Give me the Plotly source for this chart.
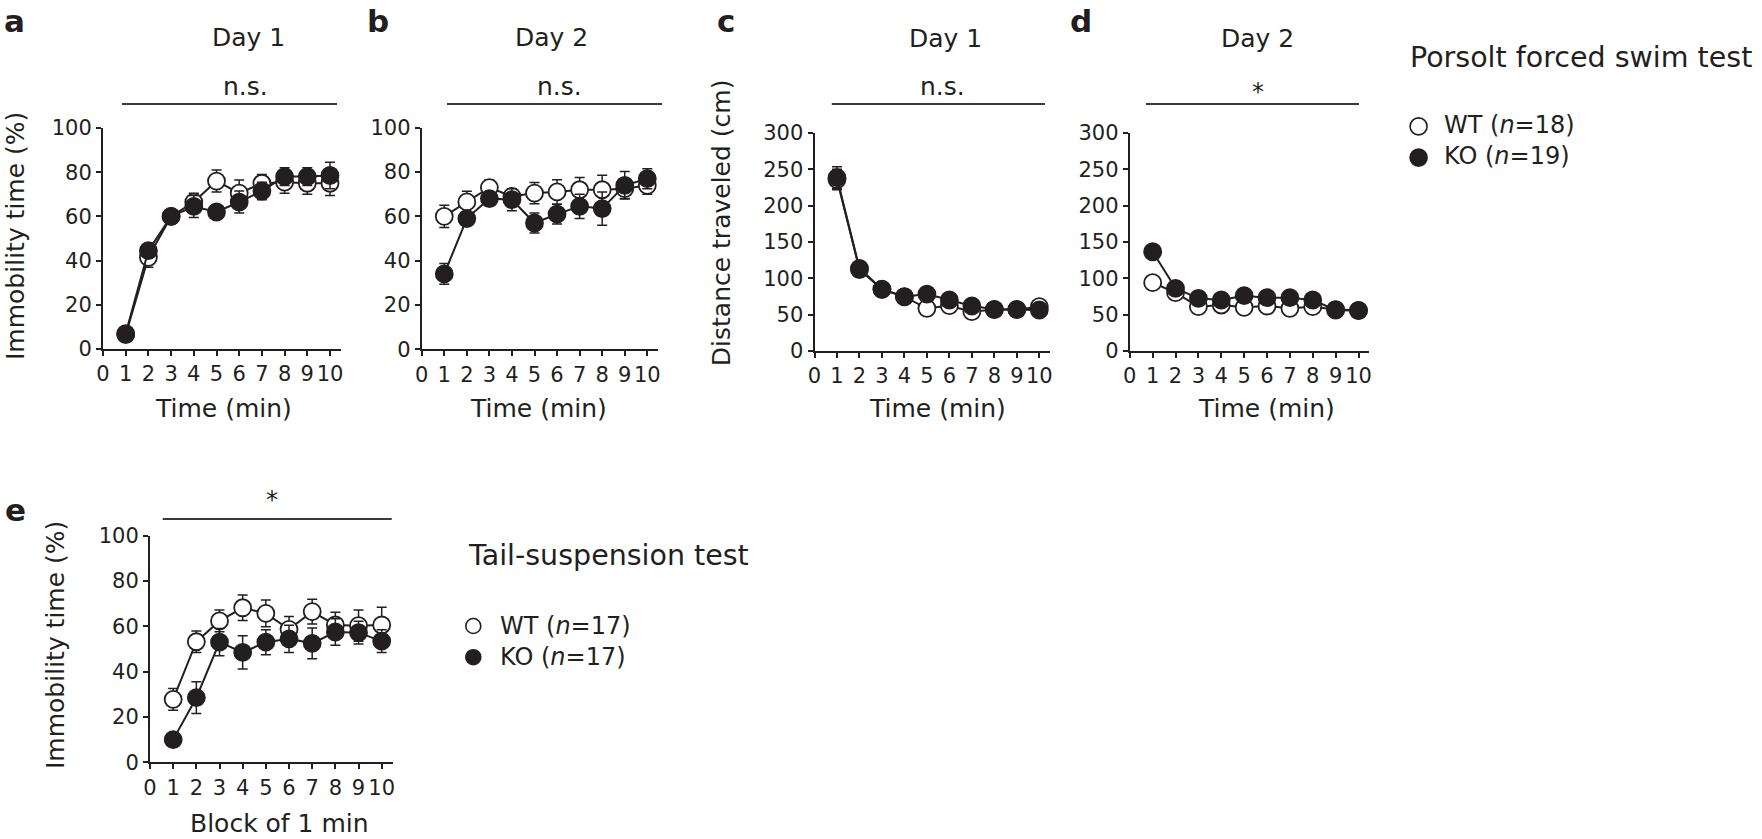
import plotly.graph_objects as go

# ---------------- data ----------------
minutes = [1, 2, 3, 4, 5, 6, 7, 8, 9, 10]
x_ticks = [0, 1, 2, 3, 4, 5, 6, 7, 8, 9, 10]
pct_ticks = [0, 20, 40, 60, 80, 100]
dist_ticks = [0, 50, 100, 150, 200, 250, 300]

# a: forced swim, Day 1, immobility (%)
a_wt = [6.5, 41.5, 60, 66.5, 76, 70.5, 75, 75.5, 75, 75]
a_wt_err = [1, 4.5, 2, 4, 5, 6, 4, 5, 5, 5.5]
a_ko = [7, 44.5, 60, 64.5, 62, 66.5, 71.5, 78, 78, 78.5]
a_ko_err = [1, 3, 2, 5, 2.5, 5, 4, 4, 4, 6]

# b: forced swim, Day 2, immobility (%)
b_wt = [60, 66.5, 73, 69, 70.5, 71, 72, 72, 72.5, 74]
b_wt_err = [5, 4.8, 3.5, 3, 4.8, 5.5, 5.5, 6.5, 4.5, 4]
b_ko = [34, 59, 68, 67.5, 57, 61, 64.5, 63.5, 74, 77]
b_ko_err = [4.7, 3, 3, 5, 4.5, 4.5, 5.5, 7.5, 6.2, 4.5]

# c: forced swim, Day 1, distance (cm)
c_wt = [236, 112, 85, 74.5, 58.7, 62.4, 54.1, 57, 57, 61]
c_wt_err = [14, 6, 5, 4, 4, 4, 3, 3, 3, 4]
c_ko = [238.5, 113.8, 84.9, 74.7, 78.4, 70.2, 61.9, 57.3, 57.3, 56.4]
c_ko_err = [15, 7, 5, 4, 5, 4, 4, 3, 3, 3]

# d: forced swim, Day 2, distance (cm)
d_wt = [94, 80.2, 61, 63.3, 60.1, 61.9, 58.7, 61, 57, 56]
d_wt_err = [5, 4, 3, 3, 3, 3, 3, 3, 3, 3]
d_ko = [136.6, 86.3, 72.5, 70.2, 76.1, 73.4, 73.4, 70.2, 56.4, 55.5]
d_ko_err = [9, 5, 4, 4, 4, 4, 4, 4, 3, 3]

# e: tail suspension, immobility (%)
e_wt = [27.8, 53.2, 62.4, 68.2, 65.7, 58.7, 66.5, 60.6, 60.3, 60.6]
e_wt_err = [4.8, 4.7, 4.8, 5.6, 5.9, 5.6, 5.5, 5.6, 6.9, 7.8]
e_ko = [10, 28.5, 53, 48.5, 53, 54.5, 52.5, 57.5, 57.2, 53.5]
e_ko_err = [1, 7, 6, 7.3, 5.5, 6, 6.8, 5.9, 5, 5]

swim_labels = ["WT (<i>n</i>=18)", "KO (<i>n</i>=19)"]
tail_labels = ["WT (<i>n</i>=17)", "KO (<i>n</i>=17)"]

# ---------------- layout constants ----------------
W, H = 1762, 839
DARK = "#231f20"
FONT = "DejaVu Sans"
XTICK_SIZE = 21
YTICK_SIZE = 21


def px(x):
    return x / W


def py(y):
    return 1 - y / H


XEND = 10.47
# panel geometry in pixels: x of value 0, x of value 10, y of value 0, y of top value
panels = {
    "a": dict(x0=103, x10=330, y0=349, ytop=128, ymax=100, ticks=pct_ticks,
              wt=a_wt, wte=a_wt_err, ko=a_ko, koe=a_ko_err),
    "b": dict(x0=421.7, x10=647.3, y0=349.3, ytop=127.7, ymax=100, ticks=pct_ticks,
              wt=b_wt, wte=b_wt_err, ko=b_ko, koe=b_ko_err),
    "c": dict(x0=814.5, x10=1039.3, y0=351, ytop=133, ymax=300, ticks=dist_ticks,
              wt=c_wt, wte=c_wt_err, ko=c_ko, koe=c_ko_err),
    "d": dict(x0=1129.8, x10=1358.5, y0=351, ytop=133, ymax=300, ticks=dist_ticks,
              wt=d_wt, wte=d_wt_err, ko=d_ko, koe=d_ko_err),
    "e": dict(x0=150, x10=381.7, y0=762.3, ytop=535.7, ymax=100, ticks=pct_ticks,
              wt=e_wt, wte=e_wt_err, ko=e_ko, koe=e_ko_err),
}

fig = go.Figure()
layout_axes = {}

for i, (name, p) in enumerate(panels.items(), start=1):
    xa = "x" if i == 1 else f"x{i}"
    ya = "y" if i == 1 else f"y{i}"
    xkey = "xaxis" if i == 1 else f"xaxis{i}"
    ykey = "yaxis" if i == 1 else f"yaxis{i}"
    unit = (p["x10"] - p["x0"]) / 10
    xdom = [px(p["x0"]), px(p["x0"] + XEND * unit)]
    ydom = [py(p["y0"]), py(p["ytop"])]
    common = dict(showline=True, linecolor=DARK, linewidth=2, ticks="outside",
                  ticklen=5, tickwidth=2, tickcolor=DARK, showgrid=False,
                  zeroline=False, fixedrange=True, automargin=False)
    layout_axes[xkey] = dict(domain=xdom, range=[0, XEND], anchor=ya,
                             tickmode="array", tickvals=x_ticks, tickangle=0,
                             tickfont=dict(family=FONT, size=XTICK_SIZE, color=DARK),
                             **common)
    layout_axes[ykey] = dict(domain=ydom, range=[0, p["ymax"]], anchor=xa,
                             tickmode="array", tickvals=p["ticks"],
                             tickfont=dict(family=FONT, size=YTICK_SIZE, color=DARK),
                             **common)
    for grp, vals, errs, fill in (("WT", p["wt"], p["wte"], "white"),
                                  ("KO", p["ko"], p["koe"], DARK)):
        fig.add_trace(go.Scatter(
            x=minutes, y=vals, xaxis=xa, yaxis=ya, mode="lines+markers",
            line=dict(color=DARK, width=2),
            marker=dict(symbol="circle", size=17, color=fill,
                        line=dict(color=DARK, width=1.8)),
            error_y=dict(type="data", array=errs, visible=True, color=DARK,
                         thickness=1.5, width=5),
            showlegend=False, name=grp, cliponaxis=False))

# overlay pixel axis for legend glyphs
layout_axes["xaxis6"] = dict(domain=[0, 1], range=[0, W], visible=False, anchor="y6",
                             fixedrange=True, automargin=False)
layout_axes["yaxis6"] = dict(domain=[0, 1], range=[H, 0], visible=False, anchor="x6",
                             fixedrange=True, automargin=False)

legend_glyphs = [
    (1418.6, 126.4, "white", 17), (1418.6, 157.6, DARK, 17),
    (473.3, 626, "white", 15), (473.3, 657.2, DARK, 15),
]
for gx, gy, fill, sz in legend_glyphs:
    fig.add_trace(go.Scatter(x=[gx], y=[gy], xaxis="x6", yaxis="y6", mode="markers",
                             marker=dict(symbol="circle", size=sz, color=fill,
                                         line=dict(color=DARK, width=1.6)),
                             showlegend=False, hoverinfo="skip"))

annotations = []


def ann(text, x, y, size, bold=False, xanchor="center", angle=0, align="center"):
    t = f"<b>{text}</b>" if bold else text
    annotations.append(dict(text=t, x=px(x), y=py(y), xref="paper", yref="paper",
                            xanchor=xanchor, yanchor="middle", showarrow=False,
                            textangle=angle, align=align,
                            font=dict(family=FONT, size=size, color=DARK)))


# panel letters
for letter, lx, ly in (("a", 14, 20.5), ("b", 378, 20.5), ("c", 726, 20.5),
                       ("d", 1081, 20.5), ("e", 15, 510)):
    ann(letter, lx, ly, 31, bold=True)

# day titles
ann("Day 1", 248, 38, 25)
ann("Day 2", 551.7, 38, 25)
ann("Day 1", 945, 39, 25)
ann("Day 2", 1257.6, 39, 25)

# significance labels
ann("n.s.", 245, 86, 25)
ann("n.s.", 559.5, 86, 25)
ann("n.s.", 942.5, 86, 25)
ann("*", 1257.6, 92, 24)
ann("*", 271.7, 500, 24)

# axis titles
ann("Immobility time (%)", 15, 236, 25, angle=-90)
ann("Distance traveled (cm)", 721.7, 222.5, 25, angle=-90)
ann("Immobility time (%)", 55, 645, 25, angle=-90)
ann("Time (min)", 223, 409, 25)
ann("Time (min)", 538, 409, 25)
ann("Time (min)", 937.5, 409, 25)
ann("Time (min)", 1266.5, 408, 25)
ann("Block of 1 min", 279, 823.5, 25)

# legends text (two-line blocks)
ann("Porsolt forced swim test", 1408, 57, 28.5, xanchor="left")
ann("<br>".join(swim_labels), 1442, 141, 24, xanchor="left", align="left")
ann("Tail-suspension test", 466, 555, 28.5, xanchor="left")
ann("<br>".join(tail_labels), 497.5, 641.5, 24, xanchor="left", align="left")

# significance bars
shapes = []
for x0, x1, y in ((122, 337, 104), (447, 662, 104), (831.7, 1045, 104),
                  (1146, 1359, 104), (162.7, 391.7, 519)):
    shapes.append(dict(type="line", xref="paper", yref="paper", x0=px(x0), x1=px(x1),
                       y0=py(y), y1=py(y), line=dict(color="#3a3a3a", width=2)))

fig.update_layout(width=W, height=H, margin=dict(l=0, r=0, t=0, b=0, autoexpand=False),
                  paper_bgcolor="white", plot_bgcolor="rgba(0,0,0,0)",
                  annotations=annotations, shapes=shapes, showlegend=False,
                  font=dict(family=FONT, size=21, color=DARK), **layout_axes)

fig.write_html("out.html", config={"displayModeBar": False},
               post_script="document.body.style.margin='0px';"
                           "document.body.style.overflow='hidden';")
